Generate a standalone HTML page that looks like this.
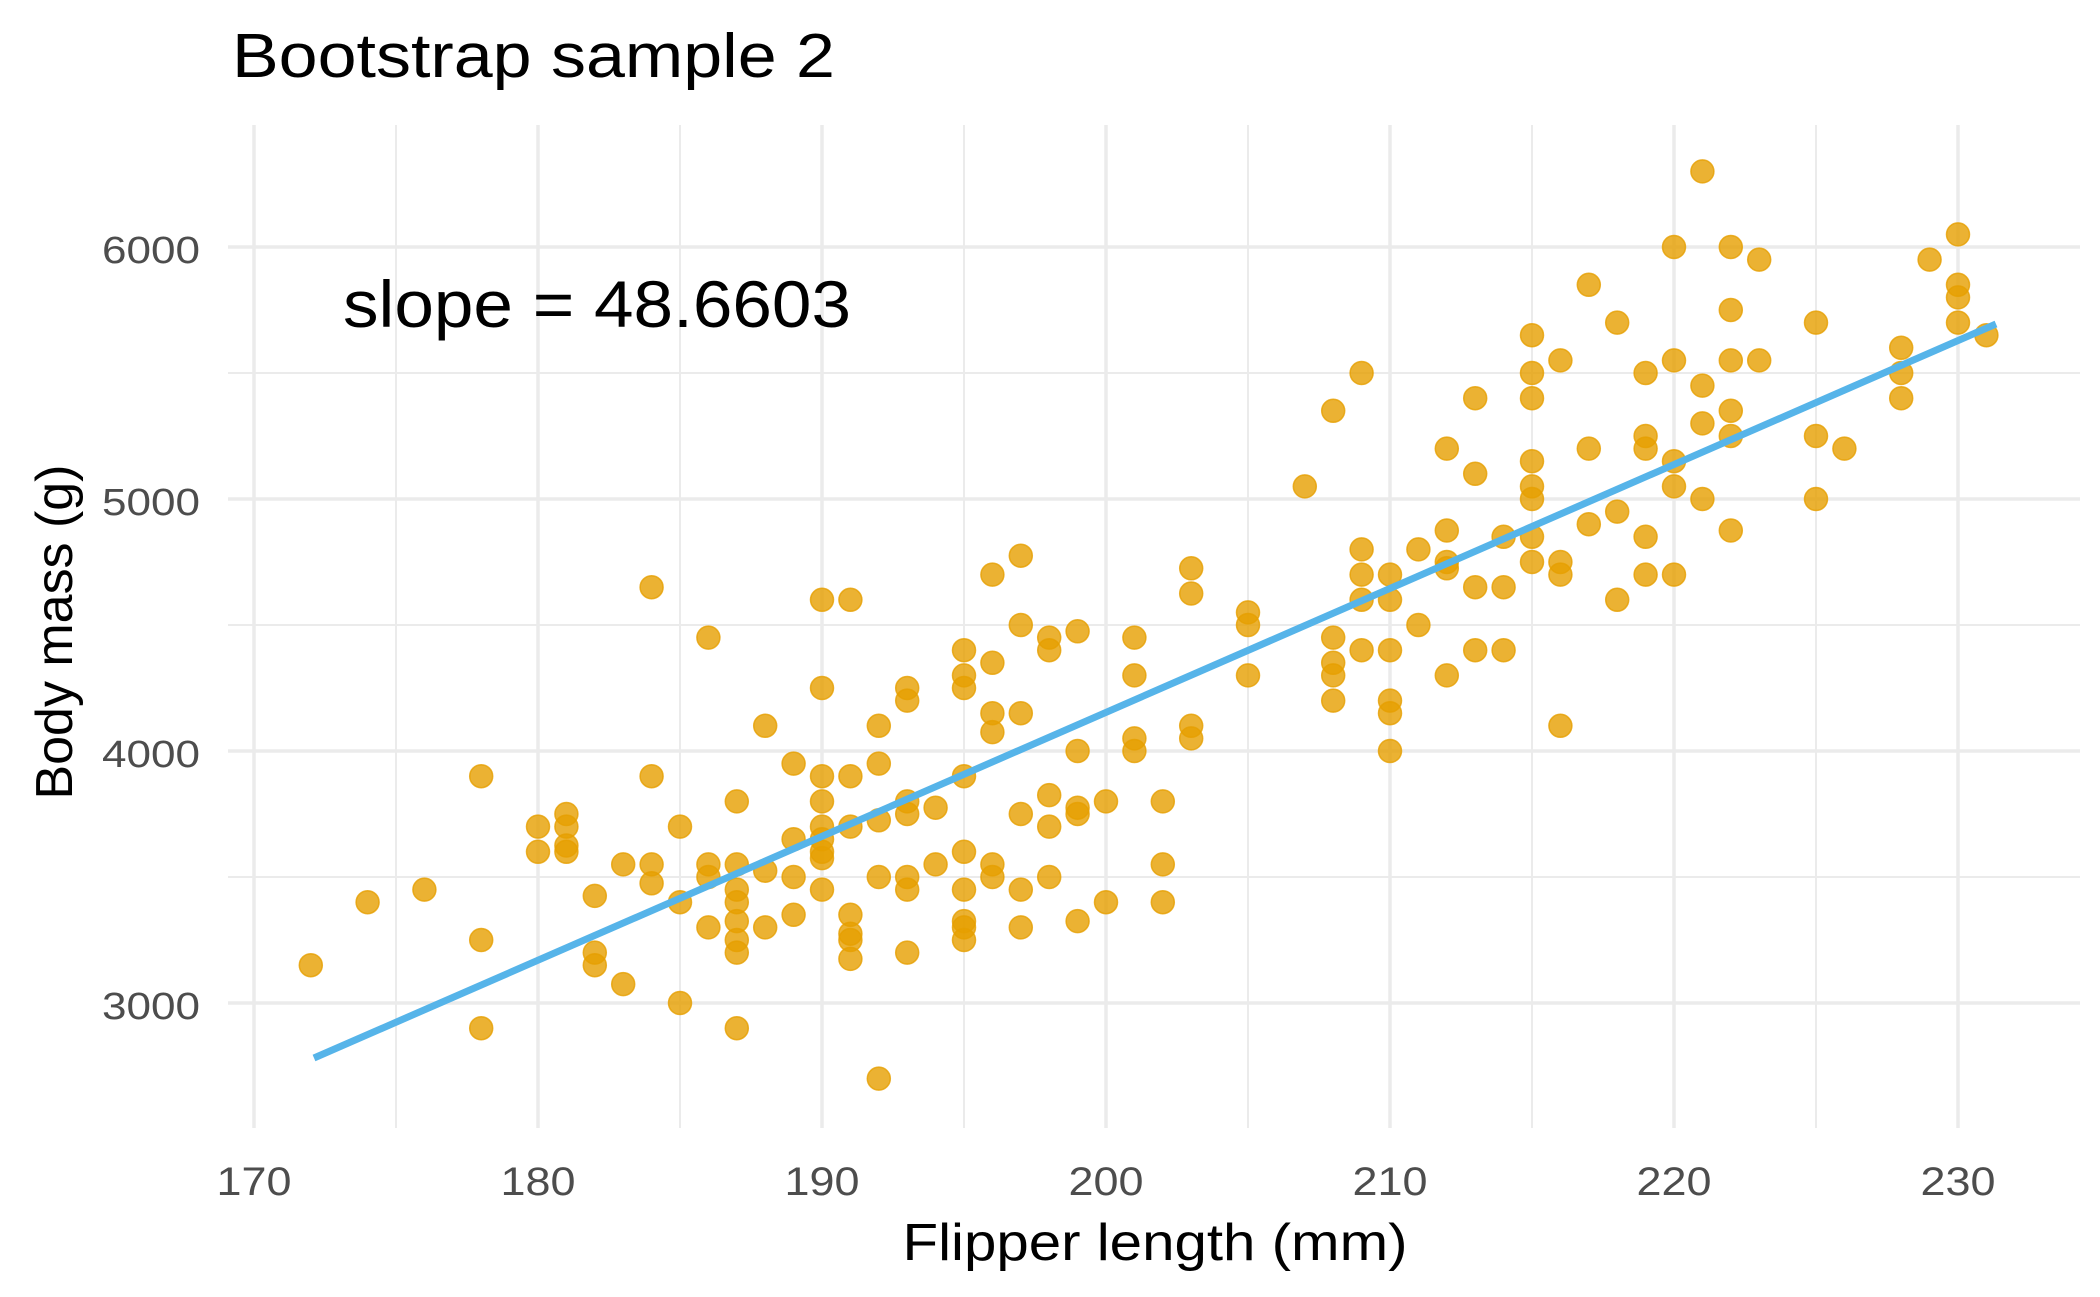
<!DOCTYPE html>
<html><head><meta charset="utf-8"><style>
html,body{margin:0;padding:0;background:#fff;}
svg{display:block;font-family:"Liberation Sans",sans-serif;}
</style></head><body>
<svg id="s" width="2100" height="1297" viewBox="0 0 2100 1297" xmlns="http://www.w3.org/2000/svg">
<rect width="2100" height="1297" fill="#fff"/>
<g id="grid"></g>
<g id="pts"></g>
<line x1="314" y1="1058" x2="1996" y2="324" stroke="#56B4E9" stroke-width="7"/>
<text x="232" y="77" font-size="62" textLength="603" lengthAdjust="spacingAndGlyphs">Bootstrap sample 2</text>
<text x="343" y="327" font-size="66" textLength="508" lengthAdjust="spacingAndGlyphs">slope = 48.6603</text>
<g font-size="38" fill="#4d4d4d" text-anchor="end">
<text x="200" y="263" textLength="98" lengthAdjust="spacingAndGlyphs">6000</text><text x="200" y="515" textLength="98" lengthAdjust="spacingAndGlyphs">5000</text><text x="200" y="767" textLength="98" lengthAdjust="spacingAndGlyphs">4000</text><text x="200" y="1019" textLength="98" lengthAdjust="spacingAndGlyphs">3000</text>
</g>
<g font-size="40" fill="#4d4d4d" text-anchor="middle">
<text x="254" y="1195" textLength="75" lengthAdjust="spacingAndGlyphs">170</text><text x="538" y="1195" textLength="75" lengthAdjust="spacingAndGlyphs">180</text><text x="822" y="1195" textLength="75" lengthAdjust="spacingAndGlyphs">190</text><text x="1106" y="1195" textLength="75" lengthAdjust="spacingAndGlyphs">200</text><text x="1390" y="1195" textLength="75" lengthAdjust="spacingAndGlyphs">210</text><text x="1674" y="1195" textLength="75" lengthAdjust="spacingAndGlyphs">220</text><text x="1958" y="1195" textLength="75" lengthAdjust="spacingAndGlyphs">230</text>
</g>
<text x="1155" y="1260" font-size="52" text-anchor="middle" textLength="505" lengthAdjust="spacingAndGlyphs">Flipper length (mm)</text>
<text transform="translate(72,632) rotate(-90)" font-size="52" text-anchor="middle" textLength="335" lengthAdjust="spacingAndGlyphs">Body mass (g)</text>
</svg>
<script>
var g=document.getElementById('grid'),p=document.getElementById('pts'),NS="http://www.w3.org/2000/svg";
function X(v){return 254+(v-170)*28.4;}function Y(m){return 1003-(m-3000)*0.252;}
function ln(x1,y1,x2,y2,w){var l=document.createElementNS(NS,'line');l.setAttribute('x1',x1);l.setAttribute('y1',y1);l.setAttribute('x2',x2);l.setAttribute('y2',y2);l.setAttribute('stroke','#ebebeb');l.setAttribute('stroke-width',w);g.appendChild(l);}
for(var m=2750;m<=6250;m+=250){if(m%500)continue;ln(228,Y(m),2080,Y(m),m%1000?2:3.5);}
for(var v=170;v<=230;v+=5){ln(X(v),125,X(v),1128,v%10?2:3.5);}
var d={172:[3150],174:[3400],176:[3450],178:[3900,3250,2900],180:[3700,3600],181:[3750,3700,3625,3600],182:[3425,3200,3150],183:[3550,3075],184:[4650,3900,3550,3475],185:[3700,3400,3000],186:[4450,3550,3500,3300],187:[3800,3550,3450,3400,3325,3250,3200,2900],188:[4100,3525,3300],189:[3950,3650,3500,3350],190:[4600,4250,3900,3800,3700,3650,3600,3575,3450],191:[4600,3900,3700,3350,3275,3250,3175],192:[4100,3950,3725,3500,2700],193:[4250,4200,3800,3750,3500,3450,3200],194:[3775,3550],195:[4400,4300,4250,3900,3600,3450,3325,3300,3250],196:[4700,4350,4150,4075,3550,3500],197:[4775,4500,4150,3750,3450,3300],198:[4450,4400,3825,3700,3500],199:[4475,4000,3775,3750,3325],200:[3800,3400],201:[4450,4300,4050,4000],202:[3800,3550,3400],203:[4725,4625,4100,4050],205:[4550,4500,4300],207:[5050],208:[5350,4450,4350,4300,4200],209:[5500,4800,4700,4600,4400],210:[4700,4600,4400,4200,4150,4000],211:[4800,4500],212:[5200,4875,4750,4725,4300],213:[5400,5100,4650,4400],214:[4850,4650,4400],215:[5650,5500,5400,5150,5050,5000,4850,4750],216:[5550,4750,4700,4100],217:[5850,5200,4900],218:[5700,4950,4600],219:[5500,5250,5200,4850,4700],220:[6000,5550,5150,5050,4700],221:[6300,5450,5300,5000],222:[6000,5750,5550,5350,5250,4875],223:[5950,5550],225:[5700,5250,5000],226:[5200],228:[5600,5500,5400],229:[5950],230:[6050,5850,5800,5700],231:[5650]};
for(var k in d){d[k].forEach(function(m){var c=document.createElementNS(NS,'circle');c.setAttribute('cx',X(+k));c.setAttribute('cy',Y(m));c.setAttribute('r',11.5);c.setAttribute('fill','#E69F00');c.setAttribute('fill-opacity','0.8');c.setAttribute('stroke','#E69F00');c.setAttribute('stroke-opacity','0.8');c.setAttribute('stroke-width','1.5');p.appendChild(c);});}
</script>
</body></html>
